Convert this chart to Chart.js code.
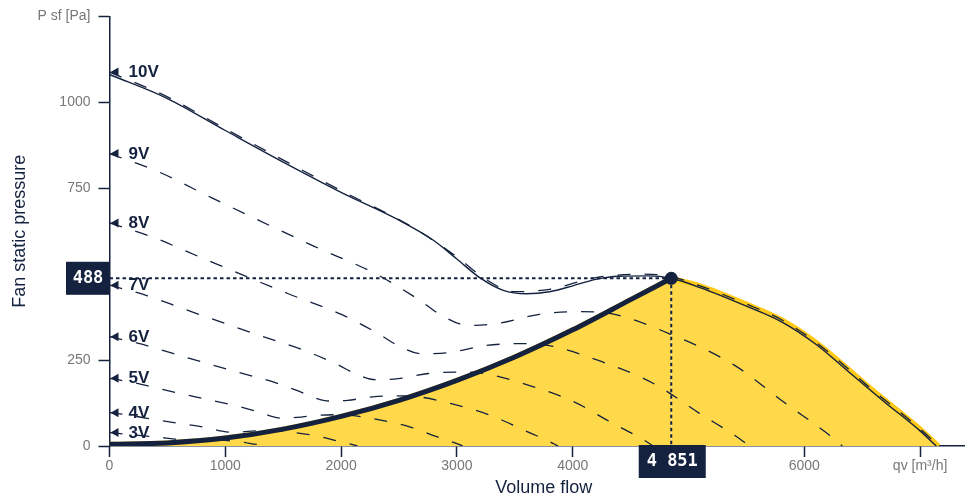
<!DOCTYPE html>
<html>
<head>
<meta charset="utf-8">
<script src="https://cdn.jsdelivr.net/npm/chart.js@4.4.1/dist/chart.umd.min.js"></script>
<style>
html,body{margin:0;padding:0;background:#ffffff;overflow:hidden;width:965px;height:500px;}
#wrap{width:978px;height:500px;position:relative;}
</style>
</head>
<body>
<div id="wrap"><canvas id="c"></canvas></div>
<script>
// ---------- DATA ----------
const voltageLabels = ['10V','9V','8V','7V','6V','5V','4V','3V'];

// 10V solid (max curve)
const q10s = [0, 500, 1000, 1500, 2000, 2500, 2800, 3000, 3200, 3400, 3600, 3800, 4000, 4200, 4400, 4650, 4851, 5100, 5500, 5800, 6100, 6400, 6700, 7000, 7140];
const p10s = [1081, 1011, 918, 826, 738, 657, 598, 544, 489, 453, 443, 449, 466, 485, 494, 495, 488, 461, 407, 362, 296, 211, 126, 44, 0];

// dashed voltage curves
const q10 = [0, 500, 1000, 2000, 2600, 3000, 3250, 3500, 3800, 4200, 4600, 4851, 5100, 5500, 5800, 6100, 6600, 7000, 7160];
const p10 = [1088, 1016, 923, 743, 640, 550, 485, 449, 456, 490, 500, 493, 466, 413, 368, 302, 160, 50, 0];
const q9 = [0, 442, 884, 1768, 2298, 2652, 2873, 3094, 3359, 3713, 4066, 4332, 4862, 5392, 5834, 6188, 6329];
const p9 = [851, 795, 722, 581, 501, 430, 379, 351, 357, 383, 391, 385, 323, 236, 125, 39, 0];
const q8 = [0, 386, 772, 1544, 2007, 2316, 2509, 2702, 2934, 3242, 3551, 3783, 4246, 4709, 5095, 5404, 5528];
const p8 = [649, 606, 551, 443, 382, 328, 289, 268, 272, 292, 298, 293, 246, 180, 95, 30, 0];
const q7 = [0, 328, 656, 1312, 1706, 1968, 2132, 2296, 2493, 2755, 3018, 3214, 3608, 4002, 4330, 4592, 4697];
const p7 = [468, 437, 397, 320, 275, 237, 209, 193, 196, 211, 215, 212, 178, 130, 69, 22, 0];
const q6 = [0, 271, 541, 1082, 1407, 1623, 1758, 1894, 2056, 2272, 2489, 2651, 2976, 3300, 3571, 3787, 3874];
const p6 = [318, 297, 270, 217, 187, 161, 142, 131, 133, 143, 146, 144, 121, 88, 47, 15, 0];
const q5 = [0, 213, 426, 852, 1108, 1278, 1385, 1491, 1619, 1789, 1960, 2087, 2343, 2599, 2812, 2982, 3050];
const p5 = [197, 184, 167, 135, 116, 100, 88, 81, 83, 89, 91, 89, 75, 55, 29, 9, 0];
const q4 = [0, 150, 299, 598, 777, 897, 972, 1047, 1136, 1256, 1375, 1465, 1645, 1824, 1973, 2093, 2141];
const p4 = [97, 91, 82, 66, 57, 49, 43, 40, 41, 44, 45, 44, 37, 27, 14, 4.5, 0];
const q3 = [0, 95, 189, 378, 491, 567, 614, 662, 718, 794, 869, 926, 1040, 1153, 1247, 1323, 1353];
const p3 = [39, 36, 33, 27, 23, 20, 17, 16, 16, 17.5, 18, 17.6, 15, 11, 5.7, 1.8, 0];

// system curve
const qSys = [0, 500, 1000, 1500, 2000, 2500, 3000, 3500, 4000, 4500, 4851];
const pSys = [5, 9, 23, 49, 86, 133, 191, 259, 338, 426, 488];

// operating point
const opQ = 4851;
const opP = 488;

// ticks
const xTickValues = [0, 1000, 2000, 3000, 4000, 5000, 6000, 7000];
const xTickLabels = ['0', '1000', '2000', '3000', '4000', '5000', '6000', 'qv [m³/h]'];
const yTickValues = [0, 250, 500, 750, 1000, 1250];
const yTickLabels = ['0', '250', '500', '750', '1000', 'P sf [Pa]'];

// ---------- CHART ----------
const NAVY = '#14223f';
const YELLOW = '#ffd94a';
const YELLOW_EDGE = '#ffc914';
const FONT = "'Liberation Sans', Arial, sans-serif";
Chart.defaults.font.family = FONT;

const pts = (qs, ps) => qs.map((q, i) => ({ x: q, y: ps[i] }));

const voltageCurves = [
  { label: voltageLabels[0], q: q10, p: p10 },
  { label: voltageLabels[1], q: q9, p: p9 },
  { label: voltageLabels[2], q: q8, p: p8 },
  { label: voltageLabels[3], q: q7, p: p7 },
  { label: voltageLabels[4], q: q6, p: p6 },
  { label: voltageLabels[5], q: q5, p: p5 },
  { label: voltageLabels[6], q: q4, p: p4 },
  { label: voltageLabels[7], q: q3, p: p3 }
];

const fillRight = [{ x: opQ, y: opP }].concat(pts(q10, p10).filter(d => d.x > opQ));

const datasets = [];
datasets.push({
  data: pts(qSys, pSys), fill: 'origin', backgroundColor: YELLOW,
  borderColor: YELLOW_EDGE, borderWidth: 5, pointRadius: 0,
  cubicInterpolationMode: 'monotone', order: 10
});
datasets.push({
  data: fillRight, fill: 'origin', backgroundColor: YELLOW,
  borderColor: YELLOW_EDGE, borderWidth: 5, pointRadius: 0,
  cubicInterpolationMode: 'monotone', order: 10
});
voltageCurves.forEach(c => {
  datasets.push({
    data: pts(c.q, c.p), fill: false, borderColor: NAVY, borderWidth: 1.3,
    borderDash: [13, 14], pointRadius: 0, cubicInterpolationMode: 'monotone', order: 5
  });
});
datasets.push({
  data: pts(q10s, p10s), fill: false, borderColor: NAVY, borderWidth: 1.4,
  pointRadius: 0, cubicInterpolationMode: 'monotone', order: 4
});
datasets.push({
  data: pts(qSys, pSys), fill: false, borderColor: NAVY, borderWidth: 5,
  borderCapStyle: 'round', pointRadius: 0, cubicInterpolationMode: 'monotone', order: 3
});
datasets.push({
  data: [{ x: 0, y: opP }, { x: opQ, y: opP }], fill: false, borderColor: NAVY,
  borderWidth: 2, borderDash: [3.5, 3], pointRadius: 0, tension: 0, order: 2
});
datasets.push({
  data: [{ x: opQ, y: opP }, { x: opQ, y: 0 }], fill: false, borderColor: NAVY,
  borderWidth: 2, borderDash: [3.5, 3], pointRadius: 0, tension: 0, order: 2
});
datasets.push({
  data: [{ x: opQ, y: opP }], showLine: false, pointRadius: 6.5, pointHoverRadius: 6.5,
  pointBackgroundColor: NAVY, pointBorderWidth: 0, order: 1, clip: false
});

const fmtThousands = v => String(v).replace(/\B(?=(\d{3})+(?!\d))/g, ' ');

const overlay = {
  id: 'overlay',
  afterDraw(chart) {
    const { ctx, chartArea } = chart;
    const x = chart.scales.x, y = chart.scales.y;
    ctx.save();
    voltageCurves.forEach(c => {
      const py = y.getPixelForValue(c.p[0]);
      const ax = chartArea.left + 1;
      ctx.fillStyle = NAVY;
      ctx.beginPath();
      ctx.moveTo(ax, py);
      ctx.lineTo(ax + 8, py - 4.5);
      ctx.lineTo(ax + 8, py + 4.5);
      ctx.closePath();
      ctx.fill();
      ctx.font = "bold 17px " + FONT;
      ctx.textBaseline = 'middle';
      ctx.textAlign = 'left';
      ctx.fillText(c.label, chartArea.left + 19, py + 0.5);
    });
    ctx.font = "bold 17px 'DejaVu Sans Mono', monospace";
    ctx.textAlign = 'center';
    ctx.textBaseline = 'middle';
    const yp = y.getPixelForValue(opP);
    ctx.fillStyle = NAVY;
    ctx.fillRect(chartArea.left - 43.5, yp - 16.5, 44, 33);
    ctx.fillStyle = '#ffffff';
    ctx.fillText(String(opP), chartArea.left - 21.5, yp + 0.5);
    const xp = x.getPixelForValue(opQ);
    ctx.fillStyle = NAVY;
    ctx.fillRect(xp - 32.5, chartArea.bottom - 1, 67, 33);
    ctx.fillStyle = '#ffffff';
    ctx.fillText(fmtThousands(opQ), xp + 1, chartArea.bottom + 15.5);
    ctx.restore();
  }
};

new Chart(document.getElementById('c'), {
  type: 'line',
  data: { datasets },
  options: {
    responsive: true,
    maintainAspectRatio: false,
    animation: false,
    events: [],
    layout: { autoPadding: false, padding: { top: 16, right: 0, left: 0, bottom: 0 } },
    plugins: { legend: { display: false }, tooltip: { enabled: false } },
    scales: {
      x: {
        type: 'linear', min: 0, max: 7500, z: 1,
        afterFit(scale) { scale.height = 54; scale.paddingRight = 0; },
        afterBuildTicks(scale) { scale.ticks = xTickValues.map(v => ({ value: v })); },
        ticks: {
          autoSkip: false, maxRotation: 0, padding: 1, color: '#777777',
          font: { size: 14, family: FONT },
          callback: (v) => { const i = xTickValues.indexOf(v); return i >= 0 ? xTickLabels[i] : ''; }
        },
        grid: { drawOnChartArea: false, drawTicks: true, tickLength: 11, tickColor: NAVY, tickWidth: 1.5 },
        border: { display: true, color: NAVY, width: 1.5 },
        title: { display: true, text: 'Volume flow', color: NAVY, font: { size: 18, family: FONT }, padding: { top: 0, bottom: 1 } }
      },
      y: {
        type: 'linear', min: 0, max: 1250, z: 1,
        afterFit(scale) { scale.width = 109.5; },
        afterBuildTicks(scale) { scale.ticks = yTickValues.map(v => ({ value: v })); },
        ticks: {
          autoSkip: false, padding: 8, color: '#777777',
          font: { size: 14, family: FONT },
          callback: (v) => { const i = yTickValues.indexOf(v); return i >= 0 ? yTickLabels[i] : ''; }
        },
        grid: { drawOnChartArea: false, drawTicks: true, tickLength: 11, tickColor: NAVY, tickWidth: 1.5 },
        border: { display: true, color: NAVY, width: 1.5 },
        title: { display: true, text: 'Fan static pressure', color: NAVY, font: { size: 18, family: FONT }, padding: { top: 9, bottom: 0 } }
      }
    }
  },
  plugins: [overlay]
});
</script>
</body>
</html>
